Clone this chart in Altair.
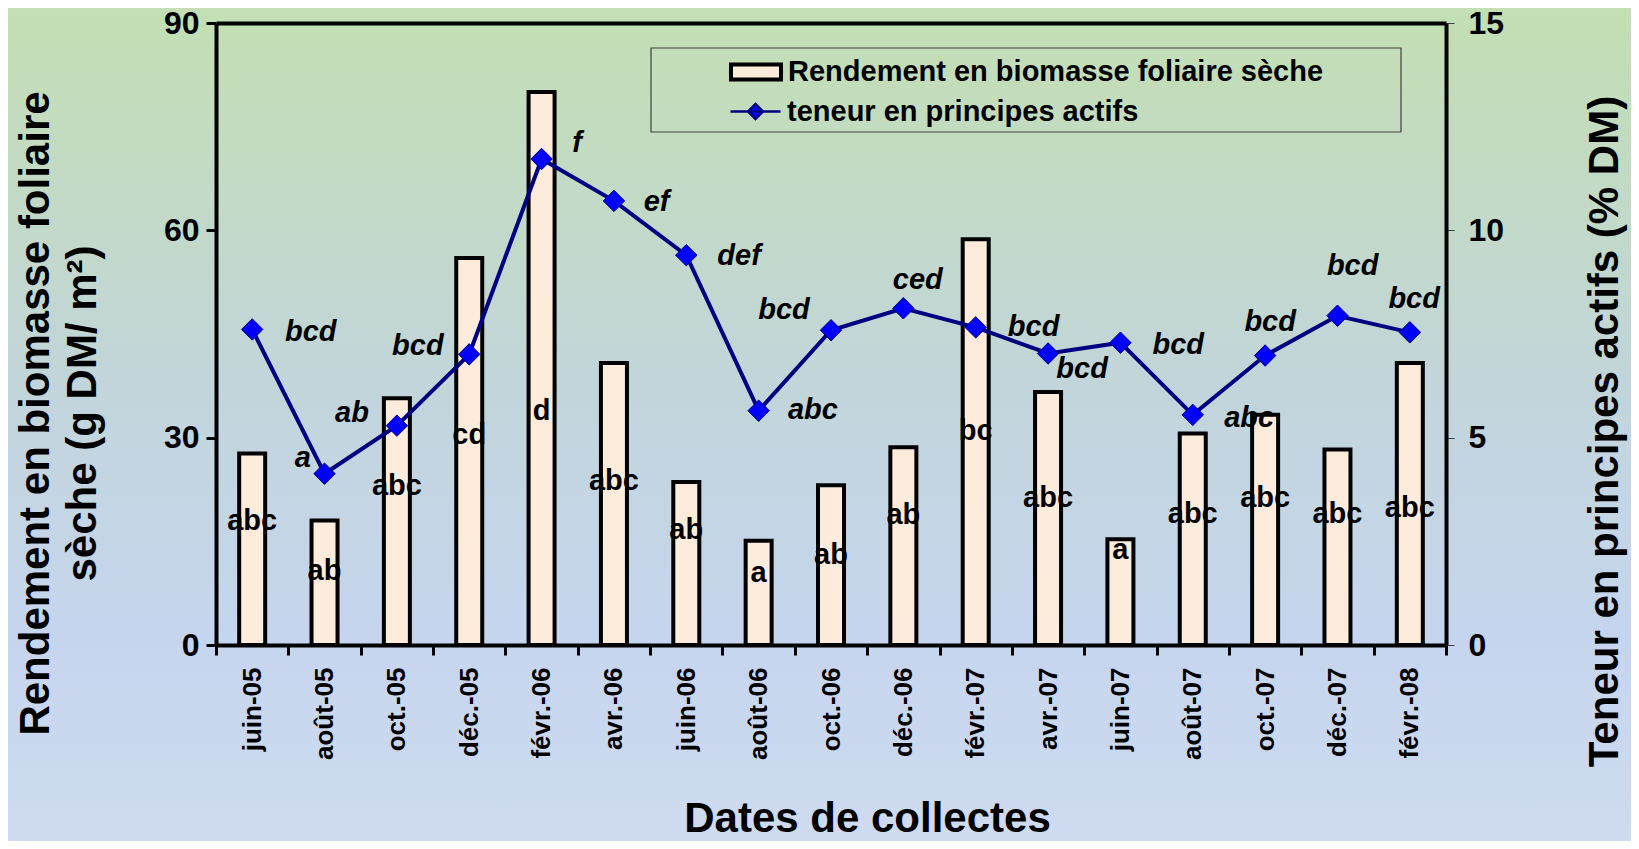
import altair as alt
import pandas as pd

# ---------------- data ----------------
dates = ["juin-05", "août-05", "oct.-05", "déc.-05", "févr.-06", "avr.-06", "juin-06",
         "août-06", "oct.-06", "déc.-06", "févr.-07", "avr.-07", "juin-07", "août-07",
         "oct.-07", "déc.-07", "févr.-08"]
rendement = [27.7, 18.0, 35.7, 56.0, 80.0, 40.8, 23.6, 15.1, 23.1, 28.6, 58.7, 36.6,
             15.3, 30.6, 33.3, 28.3, 40.8]
teneur = [7.61, 4.13, 5.29, 7.01, 11.72, 10.71, 9.40, 5.65, 7.59, 8.12, 7.66, 7.03,
          7.29, 5.55, 6.98, 7.94, 7.54]
bar_letters = ["abc", "ab", "abc", "cd", "d", "abc", "ab", "a", "ab", "ab", "bc", "abc",
               "a", "abc", "abc", "abc", "abc"]
bar_letter_y = [18.0, 10.7, 23.0, 30.4, 33.9, 23.7, 16.6, 10.4, 13.0, 18.8, 31.0, 21.3,
                13.8, 18.9, 21.2, 18.9, 19.8]
line_letters = ["bcd", "a", "ab", "bcd", "f", "ef", "def", "abc", "bcd", "ced", "bcd",
                "bcd", "bcd", "abc", "bcd", "bcd", "bcd"]
line_letter_x = [1.31, 1.20, 1.88, 2.79, 4.99, 6.09, 7.23, 8.25, 7.85, 9.70, 11.30,
                 11.97, 13.30, 14.28, 14.57, 15.71, 16.56]
line_letter_y = [7.56, 4.51, 5.60, 7.21, 12.10, 10.69, 9.38, 5.67, 8.07, 8.80, 7.66,
                 6.65, 7.23, 5.47, 7.79, 9.15, 8.34]
left_ticks = [0, 30, 60, 90]
right_ticks = [0, 5, 10, 15]
serie_bar = "Rendement en biomasse foliaire sèche"
serie_line = "teneur en principes actifs"

# ---------------- layout / style ----------------
W, H = 1230, 622
PAD = {"left": 208, "top": 15, "right": 185, "bottom": 196}
FONT = "Liberation Sans"

df = pd.DataFrame({"date": dates, "rendement": rendement, "teneur": teneur,
                   "bl": bar_letters, "bly": bar_letter_y,
                   "s1": [serie_bar] * len(dates), "s2": [serie_line] * len(dates)})
lab = pd.DataFrame({"t": line_letters, "lx": line_letter_x, "ly": line_letter_y})
one = pd.DataFrame({"a": [0]})

xscale = alt.Scale(domain=dates, paddingInner=0, paddingOuter=0)
y_left = alt.Scale(domain=[0, 90], nice=False, zero=True)
y_right = alt.Scale(domain=[0, 15], nice=False, zero=True)

grad = alt.LinearGradient(
    gradient="linear", x1=0, x2=0, y1=0, y2=1,
    stops=[alt.GradientStop(color="#C3DFB3", offset=0),
           alt.GradientStop(color="#C2D5DA", offset=0.45),
           alt.GradientStop(color="#C6D5EE", offset=0.75),
           alt.GradientStop(color="#CEDBF0", offset=1)])

bg = alt.Chart(one).mark_rect(fill=grad).encode(
    x=alt.value(-PAD["left"]), x2=alt.value(W + PAD["right"]),
    y=alt.value(-PAD["top"]), y2=alt.value(H + PAD["bottom"]))

legend_box = alt.Chart(one).mark_rect(fill="transparent", stroke="#404040", strokeWidth=1.2).encode(
    x=alt.value(435), x2=alt.value(1185), y=alt.value(25), y2=alt.value(109))

bars = alt.Chart(df).mark_bar(width=26, stroke="black", strokeWidth=4, opacity=1).encode(
    x=alt.X("date:N", sort=dates, scale=xscale, title="Dates de collectes",
            axis=alt.Axis(tickBand="extent", labelAngle=-90, labelFontSize=26,
                          labelFontWeight="bold", labelColor="black", labelPadding=12,
                          tickSize=10, tickWidth=3, tickColor="black",
                          domainColor="black", domainWidth=4,
                          titleFontSize=42, titleFontWeight="bold", titleColor="black",
                          titleX=651, titleY=186, titleBaseline="alphabetic",
                          titleAlign="center", zindex=2)),
    y=alt.Y("rendement:Q", scale=y_left,
            title=["Rendement en biomasse foliaire", "sèche (g DM/ m²)"],
            axis=alt.Axis(orient="left", values=left_ticks, labelFontSize=32,
                          labelFontWeight="bold", labelColor="black", labelPadding=7,
                          tickSize=10, tickWidth=3, tickColor="black",
                          domainColor="black", domainWidth=4, grid=False,
                          titleFontSize=42, titleFontWeight="bold", titleColor="black",
                          titleLineHeight=47, titleAngle=-90, titleX=-181, titleY=390,
                          titleBaseline="middle", titleAlign="center", zindex=2)),
    color=alt.Color("s1:N", scale=alt.Scale(range=["#FDEBDC"]),
                    legend=alt.Legend(orient="none", legendX=513, legendY=22, title=None,
                                      symbolType="M-1,-0.3H1V0.3H-1Z", symbolSize=2500,
                                      symbolStrokeColor="black", symbolStrokeWidth=4,
                                      symbolOpacity=1, labelFontSize=29, labelFont=FONT,
                                      labelFontWeight="bold", labelColor="black",
                                      labelOffset=5, labelLimit=2000, padding=0)))

bar_text = alt.Chart(df).mark_text(font=FONT, fontWeight="bold", fontSize=29,
                                   color="black", baseline="middle", align="center").encode(
    x=alt.X("date:N", sort=dates, scale=xscale, axis=None),
    y=alt.Y("bly:Q", scale=y_left, axis=None),
    text="bl:N")

line = alt.Chart(df).mark_line(color="#000080", strokeWidth=4).encode(
    x=alt.X("date:N", sort=dates, scale=xscale, axis=None),
    y=alt.Y("teneur:Q", scale=y_right, title="Teneur en principes actifs (% DM)",
            axis=alt.Axis(orient="right", values=right_ticks, labelFontSize=32,
                          labelFontWeight="bold", labelColor="black", labelPadding=14,
                          tickSize=8, tickWidth=1, tickColor="#404040",
                          domainColor="black", domainWidth=4, grid=False,
                          titleFontSize=42, titleFontWeight="bold", titleColor="black",
                          titleAngle=-90, titleX=158, titleY=408,
                          titleBaseline="middle", titleAlign="center", zindex=2)))

points = alt.Chart(df).mark_point(shape="diamond", filled=True, size=460, opacity=1,
                                  stroke="#000080", strokeWidth=1).encode(
    x=alt.X("date:N", sort=dates, scale=xscale, axis=None),
    y=alt.Y("teneur:Q", scale=y_right, axis=None),
    color=alt.Color("s2:N", scale=alt.Scale(range=["#0000FF"]),
                    legend=alt.Legend(orient="none", legendX=513, legendY=62, title=None,
                                      symbolType="M-1,0H1M0,-0.3L0.3,0L0,0.3L-0.3,0Z",
                                      symbolSize=2500, symbolStrokeColor="#000080",
                                      symbolStrokeWidth=2.5, symbolOpacity=1,
                                      labelFontSize=29, labelFont=FONT,
                                      labelFontWeight="bold", labelColor="black",
                                      labelOffset=5, labelLimit=2000, padding=0)))

line_text = alt.Chart(lab).mark_text(font=FONT, fontWeight="bold", fontStyle="italic",
                                     fontSize=29, color="black", baseline="middle",
                                     align="center").encode(
    x=alt.X("lx:Q", scale=alt.Scale(domain=[0, len(dates)], nice=False, zero=False),
            axis=alt.Axis(orient="top", labels=False, ticks=False, title=None,
                          domainColor="black", domainWidth=4, grid=False, zindex=2)),
    y=alt.Y("ly:Q", scale=y_right, axis=None),
    text="t:N")

chart = alt.layer(bg, bars, bar_text, line, points, line_text, legend_box).resolve_scale(
    x="independent", y="independent", color="independent"
).properties(
    width=W, height=H, padding=PAD, autosize=alt.AutoSizeParams(type="none"),
    background="#C6D7E4"
).configure_view(stroke=None).configure_axis(labelFont=FONT, titleFont=FONT)

chart.save("out.html", embed_options={"renderer": "svg", "actions": False})
